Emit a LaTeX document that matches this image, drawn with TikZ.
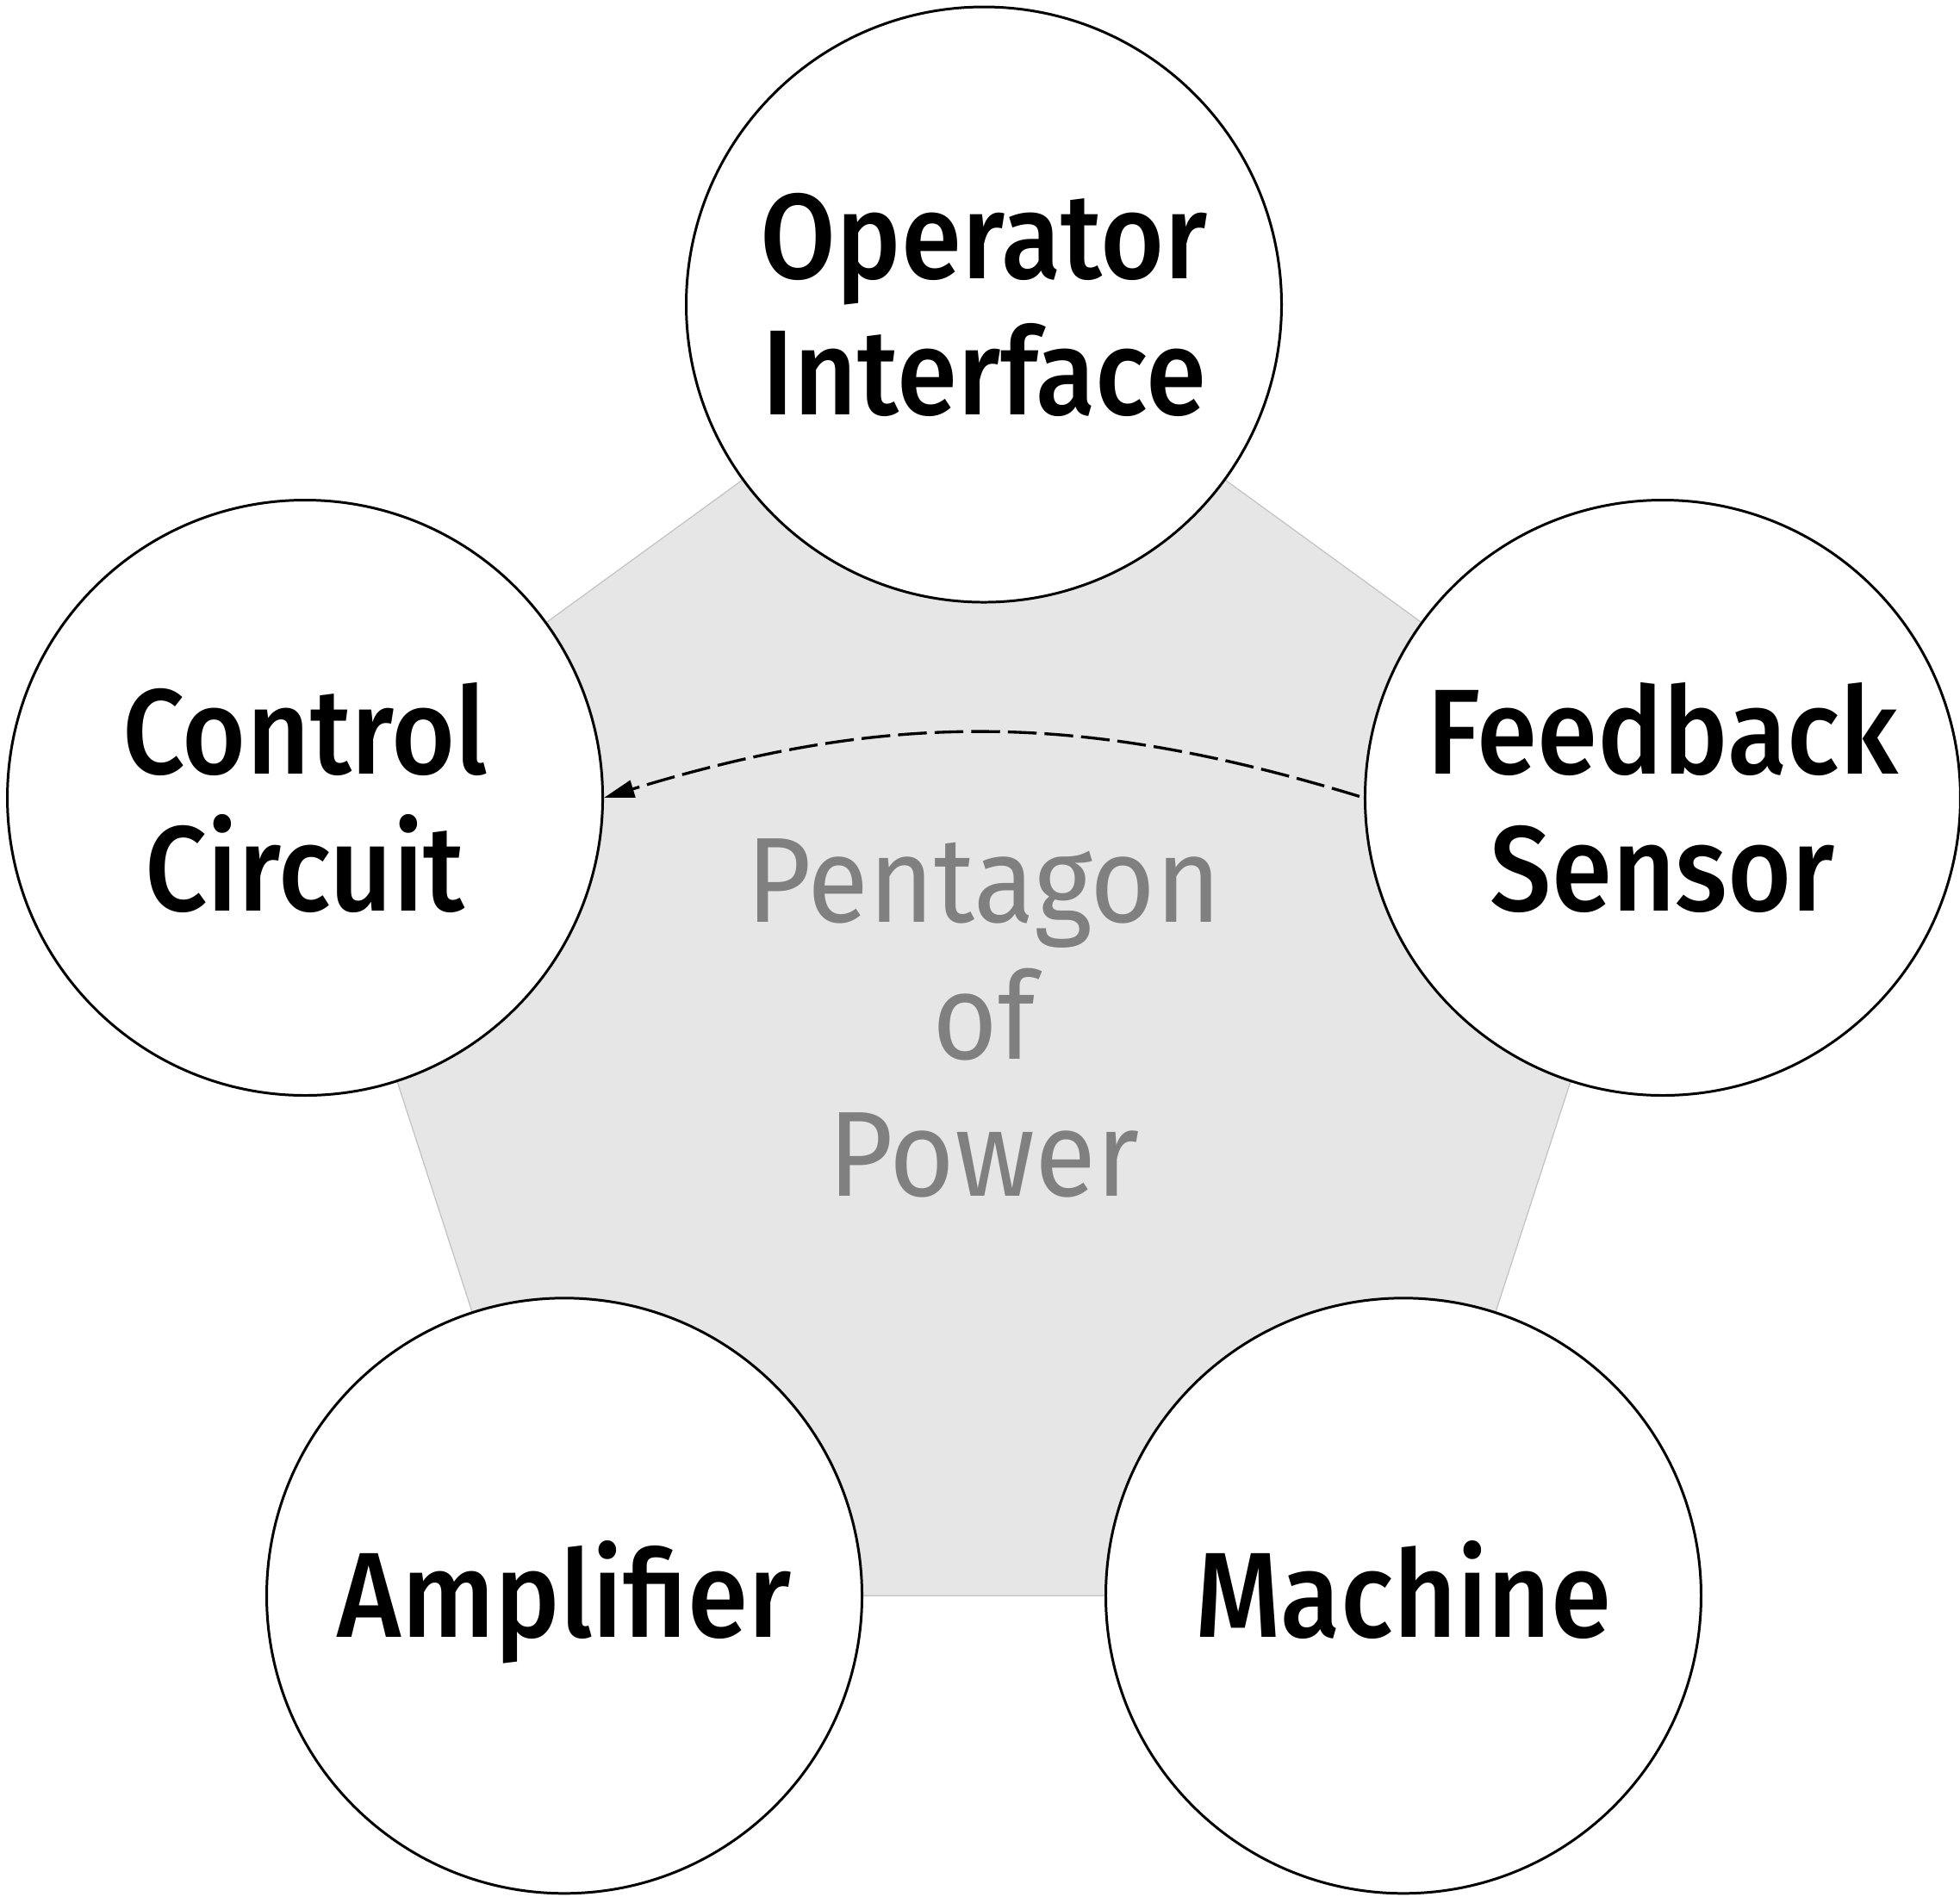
\documentclass[tikz,border=0pt]{standalone}
\usepackage{fontspec}
\usetikzlibrary{arrows.meta}
\IfFontExistsTF{Fira Sans Medium}{%
  \newfontfamily\lblfont[FakeStretch=0.905]{Fira Sans Medium}%
}{%
  \newfontfamily\lblfont[FakeStretch=0.885,UprightFont={* Bold}]{Fira Sans}%
}
\IfFontExistsTF{Fira Sans Book}{%
  \newfontfamily\pentfont[FakeStretch=0.915]{Fira Sans Book}%
}{%
  \newfontfamily\pentfont[FakeStretch=0.925]{Fira Sans}%
}
\definecolor{pentfill}{RGB}{230,230,230}
\definecolor{pentedge}{RGB}{195,195,195}
\definecolor{pentext}{RGB}{128,128,128}
\tikzset{
  unit/.style={circle, draw=black, line width=0.85pt, fill=white, minimum size=6.91cm, inner sep=0pt, align=center,
    font={\lblfont\fontsize{40}{45}\selectfont}},
  oneline/.style={text height=27.7pt, text depth=0pt},
  pentlabel/.style={align=center, text=pentext, inner sep=0pt, font={\pentfont\fontsize{40}{45.2}\selectfont}},
  feedback/.style={line width=0.95pt, dash pattern=on 9.5pt off 2.6pt, -{Triangle[length=10pt,width=5.8pt]}}
}
\begin{document}
\begin{tikzpicture}
\useasboundingbox (0,0) rectangle (22.75,-22.01);
% pentagon vertices (centre 11.42,-11.82, radius 8.285)
\begin{scope}[shift={(11.42,-11.82)}]
  \coordinate (vOI) at (90:8.285);
  \coordinate (vCC) at (162:8.285);
  \coordinate (vAM) at (234:8.285);
  \coordinate (vMA) at (306:8.285);
  \coordinate (vFS) at (18:8.285);
  \fill[pentfill, draw=pentedge, line width=0.35pt] (vOI) -- (vFS) -- (vMA) -- (vAM) -- (vCC) -- cycle;
  \node[pentlabel] (pop) at (0,0) {Pentagon\\of\\Power};
\end{scope}
\node[unit] (oi) at (vOI) {Operator\\Interface};
\node[unit] (cc) at (vCC) {Control\\Circuit};
\node[unit] (fs) at (vFS) {Feedback\\Sensor};
\node[unit, oneline] (am) at (vAM) {Amplifier};
\node[unit, oneline] (ma) at (vMA) {Machine};
\draw[feedback, shorten <=1.5pt] (fs.west) to[out=163, in=17] (cc.east);
\end{tikzpicture}
\end{document}
